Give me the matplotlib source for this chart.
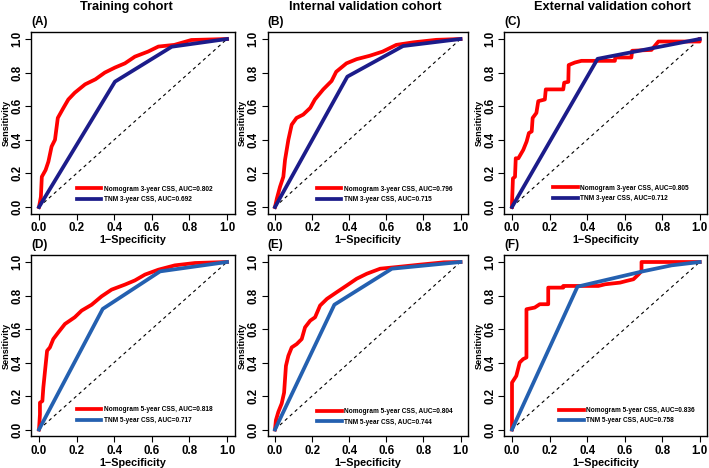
import matplotlib
matplotlib.use("Agg")
import matplotlib.pyplot as plt

plt.rcParams['font.family'] = ['Liberation Sans', 'DejaVu Sans']
plt.rcParams['font.weight'] = 'bold'

# ROC points: (1-specificity, sensitivity)
nomo_A_x = [0, 0.01, 0.015, 0.035, 0.05, 0.067, 0.085, 0.10, 0.13, 0.156, 0.19, 0.245, 0.30, 0.35, 0.404, 0.457, 0.51, 0.58, 0.635, 0.72, 0.81, 1.0]
nomo_A_y = [0, 0.06, 0.18, 0.22, 0.27, 0.36, 0.40, 0.53, 0.59, 0.64, 0.68, 0.73, 0.76, 0.80, 0.83, 0.855, 0.895, 0.925, 0.955, 0.965, 0.994, 1.0]
tnm_A_x = [0, 0.404, 0.706, 1.0]
tnm_A_y = [0, 0.746, 0.954, 1.0]

nomo_B_x = [0, 0.01, 0.027, 0.045, 0.054, 0.072, 0.09, 0.116, 0.152, 0.19, 0.215, 0.26, 0.305, 0.33, 0.385, 0.44, 0.51, 0.58, 0.654, 0.745, 0.87, 1.0]
nomo_B_y = [0, 0.05, 0.12, 0.18, 0.28, 0.40, 0.49, 0.53, 0.55, 0.59, 0.64, 0.70, 0.75, 0.805, 0.855, 0.88, 0.90, 0.925, 0.965, 0.98, 0.995, 1.0]
tnm_B_x = [0, 0.39, 0.69, 1.0]
tnm_B_y = [0, 0.776, 0.958, 1.0]

nomo_C_x = [0, 0.0, 0.005, 0.016, 0.02, 0.034, 0.06, 0.078, 0.09, 0.105, 0.11, 0.13, 0.14, 0.175, 0.18, 0.273, 0.278, 0.30, 0.302, 0.335, 0.37, 0.548, 0.55, 0.636, 0.64, 0.743, 0.78, 1.0, 1.0]
nomo_C_y = [0, 0.02, 0.17, 0.18, 0.29, 0.29, 0.34, 0.39, 0.44, 0.45, 0.53, 0.56, 0.63, 0.64, 0.70, 0.70, 0.74, 0.745, 0.845, 0.86, 0.87, 0.87, 0.89, 0.89, 0.93, 0.935, 0.985, 0.985, 1.0]
tnm_C_x = [0, 0.456, 1.0]
tnm_C_y = [0, 0.882, 1.0]

nomo_D_x = [0, 0.005, 0.005, 0.018, 0.023, 0.032, 0.043, 0.058, 0.076, 0.103, 0.138, 0.19, 0.227, 0.28, 0.333, 0.386, 0.457, 0.51, 0.564, 0.635, 0.723, 0.83, 1.0]
nomo_D_y = [0, 0.09, 0.16, 0.17, 0.25, 0.35, 0.47, 0.49, 0.54, 0.58, 0.63, 0.67, 0.71, 0.745, 0.795, 0.835, 0.865, 0.89, 0.925, 0.954, 0.98, 0.994, 1.0]
tnm_D_x = [0, 0.339, 0.644, 1.0]
tnm_D_y = [0, 0.72, 0.944, 1.0]

nomo_E_x = [0, 0.005, 0.018, 0.036, 0.049, 0.059, 0.072, 0.09, 0.117, 0.144, 0.162, 0.19, 0.216, 0.243, 0.28, 0.333, 0.387, 0.44, 0.495, 0.567, 0.658, 0.78, 0.91, 1.0]
nomo_E_y = [0, 0.056, 0.105, 0.155, 0.22, 0.38, 0.44, 0.49, 0.51, 0.54, 0.61, 0.65, 0.67, 0.74, 0.78, 0.82, 0.86, 0.90, 0.93, 0.96, 0.97, 0.984, 0.998, 1.0]
tnm_E_x = [0, 0.32, 0.63, 1.0]
tnm_E_y = [0, 0.745, 0.96, 1.0]

nomo_F_x = [0, 0.0, 0.023, 0.041, 0.059, 0.077, 0.077, 0.121, 0.148, 0.193, 0.193, 0.273, 0.273, 0.46, 0.496, 0.576, 0.61, 0.647, 0.674, 0.69, 0.69, 1.0]
nomo_F_y = [0, 0.28, 0.32, 0.40, 0.42, 0.43, 0.718, 0.728, 0.748, 0.748, 0.847, 0.847, 0.857, 0.857, 0.867, 0.877, 0.887, 0.897, 0.926, 0.946, 1.0, 1.0]
tnm_F_x = [0, 0.349, 0.70, 0.85, 1.0]
tnm_F_y = [0, 0.853, 0.945, 0.98, 1.0]

panels = ['(A)', '(B)', '(C)', '(D)', '(E)', '(F)']
col_titles = ['Training cohort', 'Internal validation cohort', 'External validation cohort']
years = ['3', '3', '3', '5', '5', '5']
auc_nomo = ['0.802', '0.796', '0.805', '0.818', '0.804', '0.836']
auc_tnm = ['0.692', '0.715', '0.712', '0.717', '0.744', '0.758']
nomo_x = [nomo_A_x, nomo_B_x, nomo_C_x, nomo_D_x, nomo_E_x, nomo_F_x]
nomo_y = [nomo_A_y, nomo_B_y, nomo_C_y, nomo_D_y, nomo_E_y, nomo_F_y]
tnm_x = [tnm_A_x, tnm_B_x, tnm_C_x, tnm_D_x, tnm_E_x, tnm_F_x]
tnm_y = [tnm_A_y, tnm_B_y, tnm_C_y, tnm_D_y, tnm_E_y, tnm_F_y]

W, H = 709, 468
fig = plt.figure(figsize=(W / 100, H / 100), dpi=100)

# pixel positions of data 0 and 1 for each column / row
col_px = [(39, 227), (275, 460.5), (512, 699.7)]
row_px = [(39, 207), (262, 429.5)]
leg_pos = [(0.20, 0.022), (0.224, 0.022), (0.218, 0.028), (0.20, 0.033), (0.225, 0.023), (0.251, 0.030)]
title_cx = [126.5, 365, 612.5]
tnm_colors = ['#1c1c8a', '#2460b0']

for i in range(6):
    r, c = divmod(i, 3)
    x0, x1 = col_px[c]
    y1, y0 = row_px[r]
    ux = (x1 - x0)
    uy = (y0 - y1)
    left = x0 - 0.04 * ux
    top = y1 - 0.04 * uy
    ax = fig.add_axes([left / W, 1 - (top + 1.08 * uy) / H, 1.08 * ux / W, 1.08 * uy / H])
    ax.set_xlim(-0.04, 1.04)
    ax.set_ylim(-0.04, 1.04)
    ax.plot([0, 1], [0, 1], color='black', lw=0.8, dashes=(3, 3))
    ax.plot(nomo_x[i], nomo_y[i], color='#ff0000', lw=2.7,
            label=f'Nomogram {years[i]}-year CSS, AUC={auc_nomo[i]}')
    ax.plot(tnm_x[i], tnm_y[i], color=tnm_colors[r], lw=2.7,
            label=f'TNM {years[i]}-year CSS, AUC={auc_tnm[i]}')
    ticks = [0, 0.2, 0.4, 0.6, 0.8, 1.0]
    ax.set_xticks(ticks)
    ax.set_yticks(ticks)
    ax.set_xticklabels([f'{t:.1f}' for t in ticks], fontsize=8.3, fontweight='bold')
    ax.set_yticklabels([f'{t:.1f}' for t in ticks], fontsize=8.3, fontweight='bold',
                       rotation=90, va='center')
    ax.tick_params(direction='out', length=4, width=0.8, pad=2)
    for s in ax.spines.values():
        s.set_linewidth(1.0)
    ax.set_xlabel('1\u2212Specificity', fontsize=7.8, fontweight='bold', labelpad=1)
    ax.set_ylabel('Sensitivity', fontsize=6.6, fontweight='bold', labelpad=0.5)
    ax.legend(loc='lower left', bbox_to_anchor=leg_pos[i], bbox_transform=ax.transData,
              frameon=False, prop={'weight': 'bold', 'size': 4.7},
              handlelength=3.8, handletextpad=0.35, labelspacing=0.55,
              borderpad=0, borderaxespad=0)
    fig.text(left / W, 1 - (22 + r * 223) / H, panels[i], fontsize=8.5,
             fontweight='bold', ha='left', va='center')

for c in range(3):
    fig.text(title_cx[c] / W, 1 - 7 / H, col_titles[c], fontsize=9.2,
             fontweight='bold', ha='center', va='center')

fig.savefig('out.png', dpi=100)
